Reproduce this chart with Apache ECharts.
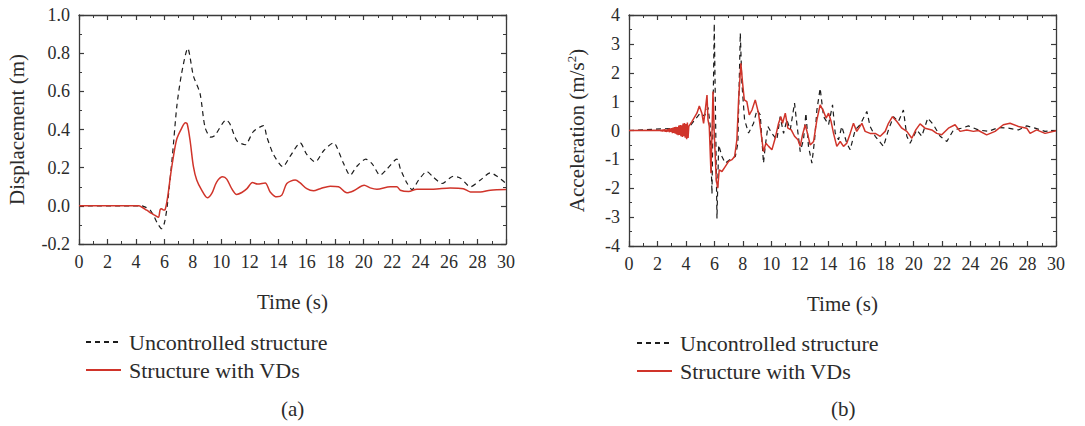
<!DOCTYPE html>
<html>
<head>
<meta charset="utf-8">
<script src="https://cdn.jsdelivr.net/npm/echarts@6/dist/echarts.min.js"></script>
<style>html,body{margin:0;padding:0;background:#fff}#c{width:1085px;height:426px}</style>
</head>
<body>
<div id="c"></div>
<script>
// ---- Data (time in s) ----
const xTicks = [0, 30, 2];
const dispUncontrolled = [
  [0,0],[4.4,0],[4.7,-0.008],[5.0,-0.022],[5.3,-0.06],[5.5,-0.09],[5.8,-0.12],[6.0,-0.09],[6.2,0.0],
  [6.56,0.26],[6.87,0.52],[7.2,0.69],[7.64,0.825],[8.04,0.68],[8.5,0.59],[8.86,0.41],[9.26,0.36],
  [9.56,0.37],[10.34,0.45],[10.6,0.43],[11.1,0.34],[11.67,0.32],[12.26,0.39],[12.96,0.42],[13.2,0.36],
  [13.66,0.27],[14.32,0.205],[14.84,0.26],[15.54,0.33],[16.0,0.27],[16.6,0.23],[17.2,0.29],[17.9,0.33],
  [18.1,0.31],[18.6,0.22],[19.05,0.16],[19.5,0.205],[20.15,0.245],[20.6,0.22],[21.16,0.16],[21.6,0.19],
  [22.33,0.245],[22.6,0.19],[23.04,0.12],[23.4,0.085],[23.86,0.135],[24.44,0.18],[24.9,0.15],[25.5,0.117],
  [26.3,0.155],[26.8,0.145],[27.5,0.1],[28.2,0.135],[28.9,0.173],[29.37,0.155],[30,0.117]
];
const dispControlled = [
  [0,0],[4.2,0],[4.4,-0.006],[4.76,-0.023],[5.1,-0.04],[5.34,-0.05],[5.58,-0.06],[5.7,-0.02],[5.8,-0.015],
  [5.93,-0.022],[6.05,-0.02],[6.23,0.047],[6.45,0.17],[6.63,0.257],[6.87,0.35],[7.2,0.405],[7.48,0.435],
  [7.6,0.43],[7.8,0.345],[8.04,0.205],[8.27,0.135],[8.62,0.082],[9.02,0.042],[9.33,0.065],[9.68,0.126],
  [10.1,0.152],[10.38,0.14],[10.73,0.09],[11.08,0.06],[11.44,0.07],[11.8,0.09],[12.19,0.122],[12.54,0.114],
  [13.08,0.12],[13.43,0.073],[13.9,0.047],[14.25,0.056],[14.6,0.117],[15.19,0.135],[15.54,0.12],[16.0,0.09],
  [16.48,0.079],[16.95,0.09],[17.65,0.103],[18.23,0.1],[18.82,0.068],[19.3,0.079],[20.04,0.108],[20.46,0.094],
  [20.93,0.087],[21.87,0.1],[22.33,0.1],[22.57,0.082],[23.16,0.075],[23.74,0.087],[24.9,0.087],[26.08,0.094],
  [27.0,0.09],[27.5,0.073],[28.2,0.073],[28.9,0.082],[30,0.085]
];
const accUncontrolled = [
  [0,0],[4.2,0.1],[4.6,0.35],[5.0,0.6],[5.3,0.5],[5.55,0.8],[5.7,0.2],[5.83,-2.2],[5.99,3.7],[6.18,-3.05],
  [6.3,-0.5],[6.53,-0.9],[6.76,-1.13],[7.11,-1.0],[7.47,-0.9],[7.65,-0.44],[7.82,3.37],[7.93,1.64],[8.12,0.37],
  [8.4,-0.09],[8.75,0.25],[8.99,0.71],[9.22,0.54],[9.45,-1.13],[9.57,-0.55],[9.76,0.14],[10.04,-0.1],
  [10.39,-0.32],[10.62,0.48],[10.86,-0.1],[11.09,0.37],[11.33,0.02],[11.63,0.95],[11.8,0.2],[12.03,-0.73],
  [12.26,-0.32],[12.43,0.6],[12.61,-0.55],[12.85,-1.13],[13.04,-0.32],[13.2,0.71],[13.43,1.46],[13.67,0.48],
  [14.02,0.2],[14.3,0.89],[14.49,-0.1],[14.72,-0.32],[14.95,0.14],[15.3,-0.44],[15.54,-0.67],[15.89,0.02],
  [16.24,0.2],[16.71,0.66],[16.94,0.14],[17.3,-0.2],[17.88,-0.55],[18.23,0.02],[18.58,0.48],[18.93,0.31],
  [19.28,0.71],[19.52,-0.2],[19.75,-0.44],[20.22,0.02],[20.57,-0.2],[20.99,0.43],[21.39,0.2],[21.86,-0.2],
  [22.33,-0.38],[22.8,0.02],[23.38,0.08],[23.85,0.16],[24.55,0.02],[25.25,-0.03],[25.95,0.1],[26.66,0.08],
  [27.36,0.02],[27.94,0.16],[28.53,0.08],[29.23,-0.03],[30,0]
];
const accControlled = [
  [0,0],[2.2,0.01],[2.25,-0.02],[2.3,0.02],[2.35,-0.03],[2.4,0.03],[2.45,-0.02],[2.5,0.04],[2.55,-0.04],
  [2.6,0.03],[2.65,-0.05],[2.7,0.05],[2.75,-0.04],[2.8,0.06],[2.85,-0.06],[2.9,0.07],[2.95,-0.05],[3.0,0.08],
  [3.05,-0.09],[3.1,0.1],[3.15,-0.08],[3.2,0.12],[3.25,-0.11],[3.3,0.13],[3.35,-0.14],[3.4,0.12],[3.45,-0.16],
  [3.5,0.17],[3.55,-0.15],[3.6,0.19],[3.65,-0.2],[3.7,0.18],[3.75,-0.22],[3.8,0.24],[3.85,-0.2],[3.9,0.26],
  [3.95,-0.25],[4.0,0.22],[4.05,-0.3],[4.1,0.28],[4.15,-0.26],[4.2,0.14],
  [4.42,0.31],[4.77,0.6],[4.94,0.85],[5.12,0.6],[5.24,0.25],[5.36,0.71],[5.48,1.23],[5.55,0.37],[5.64,0.14],
  [5.76,-1.48],[5.9,1.35],[5.99,-0.1],[6.13,-1.7],[6.23,-2.0],[6.34,-1.36],[6.53,-1.42],[6.76,-1.25],
  [7.0,-1.07],[7.23,-1.01],[7.42,-0.9],[7.58,-0.32],[7.7,1.06],[7.86,2.33],[7.98,1.64],[8.1,1.06],[8.28,1.0],
  [8.45,0.54],[8.64,0.71],[8.87,1.06],[9.1,0.6],[9.34,-0.32],[9.45,-0.73],[9.62,-0.44],[9.81,-0.55],
  [10.04,-0.67],[10.27,-0.27],[10.51,0.25],[10.67,0.48],[10.79,0.25],[10.98,0.6],[11.16,0.08],[11.4,0.02],
  [11.63,-0.2],[11.87,-0.32],[12.03,-0.55],[12.19,-0.15],[12.38,0.2],[12.54,-0.1],[12.73,-0.5],[12.97,-0.38],
  [13.2,0.37],[13.43,0.89],[13.67,0.66],[13.85,0.43],[14.02,0.6],[14.2,0.31],[14.37,-0.1],[14.6,-0.55],
  [14.84,-0.38],[15.07,-0.55],[15.3,-0.44],[15.54,-0.1],[15.77,0.25],[16.0,-0.03],[16.36,0.25],[16.59,-0.03],
  [16.94,-0.1],[17.3,-0.1],[17.65,-0.2],[18.0,-0.03],[18.23,0.25],[18.51,0.48],[18.82,0.31],[19.17,0.08],
  [19.52,-0.03],[19.87,-0.27],[20.15,0.02],[20.45,0.23],[20.8,0.08],[21.27,0.02],[21.62,-0.1],[21.97,-0.15],
  [22.44,0.08],[22.91,0.2],[23.26,-0.03],[23.73,0.02],[24.2,-0.03],[24.55,0],[25.13,-0.15],[25.72,-0.03],
  [26.3,0.2],[26.77,0.25],[27.36,0.14],[27.94,0.08],[28.18,-0.1],[28.64,0.02],[29.23,-0.1],[30,-0.01]
];
const seriesNames = ['Uncontrolled structure', 'Structure with VDs'];
const panelLabels = ['(a)', '(b)'];
const yNames = ['Displacement (m)', 'Acceleration (m/s{sup|2})'];

// ---- Styling ----
const FONT = 'Liberation Serif';
const TXT = '#2b2b2b';
const AX = '#3a3a3a';
const RED = '#d0342a';
const BLK = '#1c1c1c';

function xAx(grid, top) {
  return {
    type: 'value', gridIndex: grid, position: top ? 'top' : 'bottom',
    min: xTicks[0], max: xTicks[1], interval: xTicks[2],
    axisLine: { show: true, onZero: false, lineStyle: { color: AX, width: 1.3 } },
    axisTick: { show: true, inside: true, length: 5, lineStyle: { color: AX, width: 1.2 } },
    minorTick: { show: true, splitNumber: 2, length: 3, lineStyle: { color: AX, width: 1 } },
    splitLine: { show: false },
    axisLabel: { show: !top, fontFamily: FONT, fontSize: 18, color: TXT, margin: 9 },
    name: top ? '' : 'Time (s)', nameLocation: 'middle', nameGap: 47,
    nameTextStyle: { fontFamily: FONT, fontSize: 21, color: TXT }
  };
}
function yAx(grid, right, min, max, interval, dec, name) {
  return {
    type: 'value', gridIndex: grid, position: right ? 'right' : 'left',
    min: min, max: max, interval: interval,
    axisLine: { show: true, onZero: false, lineStyle: { color: AX, width: 1.3 } },
    axisTick: { show: true, inside: true, length: 5, lineStyle: { color: AX, width: 1.2 } },
    minorTick: { show: true, splitNumber: 2, length: 3, lineStyle: { color: AX, width: 1 } },
    splitLine: { show: false },
    axisLabel: { show: !right, fontFamily: FONT, fontSize: 18, color: TXT, margin: 9,
      formatter: v => v.toFixed(dec) },
    name: right ? '' : name, nameLocation: 'middle', nameGap: dec ? 52 : 41, nameRotate: 90,
    nameTextStyle: { fontFamily: FONT, fontSize: 21, color: TXT,
      rich: { sup: { fontFamily: FONT, fontSize: 13, color: TXT, verticalAlign: 'top', padding: [0,0,10,0] } } }
  };
}
function line(name, data, xi, yi, dashed, smooth) {
  return {
    type: 'line', name: name, data: data, xAxisIndex: xi, yAxisIndex: yi,
    showSymbol: false, symbol: 'none', smooth: smooth, animation: false, z: dashed ? 2 : 3,
    lineStyle: dashed ? { color: BLK, width: 1.2, type: [5, 4] } : { color: RED, width: 1.5 },
    itemStyle: { color: dashed ? BLK : RED }
  };
}
function legend(left, top) {
  return {
    data: seriesNames, orient: 'vertical', left: left, top: top,
    itemWidth: 35, itemHeight: 14, itemGap: 6, selectedMode: false,
    itemStyle: { opacity: 0 },
    textStyle: { fontFamily: FONT, fontSize: 22, color: TXT, padding: [0, 0, 0, 3] }
  };
}

const chart = echarts.init(document.getElementById('c'), null, { renderer: 'svg' });
chart.setOption({
  backgroundColor: '#fff',
  animation: false,
  grid: [
    { left: 79, top: 15, width: 427, height: 229 },
    { left: 629, top: 15, width: 427, height: 231 }
  ],
  xAxis: [xAx(0, false), xAx(0, true), xAx(1, false), xAx(1, true)],
  yAxis: [
    yAx(0, false, -0.2, 1.0, 0.2, 1, yNames[0]), yAx(0, true, -0.2, 1.0, 0.2, 1, ''),
    yAx(1, false, -4, 4, 1, 0, yNames[1]), yAx(1, true, -4, 4, 1, 0, '')
  ],
  legend: [legend(80, 326), legend(631, 327)],
  series: [
    line(seriesNames[0], dispUncontrolled, 0, 0, true, 0.25),
    line(seriesNames[1], dispControlled, 0, 0, false, 0.3),
    line(seriesNames[0], accUncontrolled, 2, 2, true, false),
    line(seriesNames[1], accControlled, 2, 2, false, false)
  ],
  graphic: [
    { type: 'text', left: 281, top: 398, style: { text: panelLabels[0], font: '21px "' + FONT + '"', fill: TXT } },
    { type: 'text', left: 831, top: 398, style: { text: panelLabels[1], font: '21px "' + FONT + '"', fill: TXT } }
  ]
});
</script>
</body>
</html>
